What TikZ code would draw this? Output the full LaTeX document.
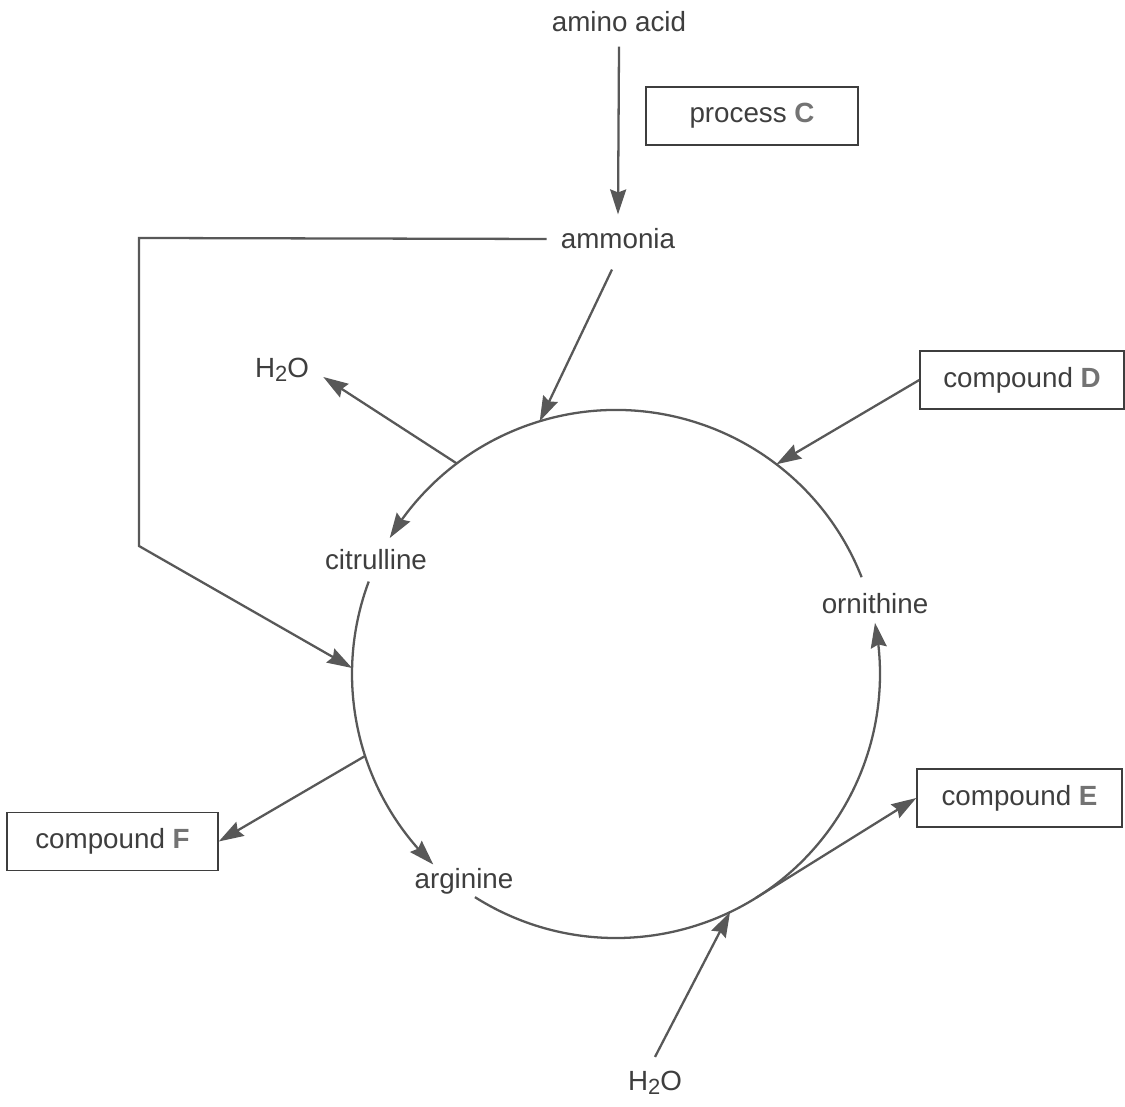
\documentclass[tikz,border=0pt]{standalone}
\usepackage{fontspec}
\setmainfont{Liberation Sans}
\usepackage{tikz}
\usetikzlibrary{arrows.meta,positioning,calc,bending}

\definecolor{inkgray}{RGB}{88,88,88}
\definecolor{txtgray}{RGB}{62,62,62}
\definecolor{lettergray}{RGB}{115,115,115}
\newcommand{\cmpd}[1]{\textbf{\color{lettergray}#1}}
\newcommand{\water}{H\raisebox{-0.28ex}{\fontsize{12.5}{12.5}\selectfont 2}O}

\begin{document}
\begin{tikzpicture}[
  font=\fontsize{15.8}{19}\selectfont,
  flow/.style={draw=inkgray,line width=1.3pt,
    -{Stealth[length=0.5cm,width=0.32cm,inset=0.06cm]}},
  chem/.style={text=txtgray,inner sep=0.28cm},
  tagbox/.style={draw=txtgray,line width=0.8pt,text=txtgray,
    minimum height=1.16cm,inner sep=0pt}]
\useasboundingbox (0,0) rectangle (22.5,22.12);
% The cycle: centre and radius
\coordinate (O) at (12.32,8.64);
\def\R{5.28}
% Points on the cycle where side arrows meet it
\foreach \ang/\nm in {106.8/pNH,52.6/pD,127.1/pWo,178.7/pIn,198.1/pF,295.6/pWi,302/pE}
  \coordinate (\nm) at ($(O)+(\ang:\R)$);
% Labels
\node[chem] (amino) at (12.38,21.68) {amino acid};
\node[chem] (ammonia) at (12.36,17.34) {ammonia};
\node[chem] (waterout) at (5.64,14.72) {\water};
\node[chem] (citr) at (7.52,10.92) {citrulline};
\node[chem] (orni) at (17.50,10.04) {ornithine};
\node[chem] (argi) at (9.28,4.50) {arginine};
\node[chem] (waterin) at (13.10,0.46) {\water};
% Boxes
\node[tagbox,minimum width=4.24cm] (procC) at (15.04,19.80) {process \cmpd{C}};
\node[tagbox,minimum width=4.08cm] (cmpD) at (20.44,14.52) {compound \cmpd{D}};
\node[tagbox,minimum width=4.10cm] (cmpE) at (20.39,6.16) {compound \cmpd{E}};
\node[tagbox,minimum width=4.22cm] (cmpF) at (2.25,5.29) {compound \cmpd{F}};
% Cycle arcs
\draw[flow] ($(O)+(21.5:\R)$) arc[start angle=21.5,end angle=149,radius=\R];
\draw[flow] ($(O)+(159.5:\R)$) arc[start angle=159.5,end angle=226.2,radius=\R];
\draw[flow] ($(O)+(237.7:\R)$) arc[start angle=237.7,end angle=371.2,radius=\R];
% Side arrows
\draw[flow] (amino.south) -- (ammonia.north);
\draw[flow] ([xshift=-0.12cm,yshift=-0.12cm]ammonia.south) -- (pNH);
\coordinate (bendtop) at (2.78,17.36);
\coordinate (bendbot) at (2.78,11.20);
\draw[flow] (ammonia.west) -- (bendtop) -- (bendbot) -- (pIn);
\draw[flow] (pWo) -- ([yshift=-0.14cm]waterout.east);
\draw[flow] (cmpD.west) -- (pD);
\draw[flow] (pF) -- (cmpF.east);
\draw[flow] (waterin.north) -- (pWi);
\draw[flow] (pE) -- (cmpE.west);
\end{tikzpicture}
\end{document}
